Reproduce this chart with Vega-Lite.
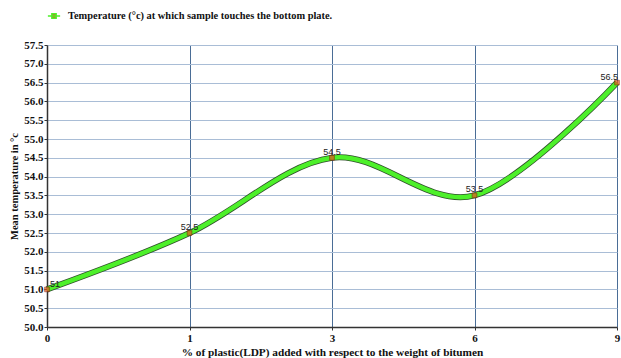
{
  "$schema": "https://vega.github.io/schema/vega-lite/v6.json",
  "autosize": "none",
  "width": 570,
  "height": 282,
  "padding": {"left": 47, "top": 45, "right": 4, "bottom": 31},
  "background": "white",
  "config": {
    "view": {"stroke": null},
    "font": "Liberation Serif"
  },
  "data": {
    "values": [
      {"plastic": "0", "temp": 51, "label": "51", "series": "Temperature (°c) at which sample touches the bottom plate."},
      {"plastic": "1", "temp": 52.5, "label": "52.5", "series": "Temperature (°c) at which sample touches the bottom plate."},
      {"plastic": "3", "temp": 54.5, "label": "54.5", "series": "Temperature (°c) at which sample touches the bottom plate."},
      {"plastic": "6", "temp": 53.5, "label": "53.5", "series": "Temperature (°c) at which sample touches the bottom plate."},
      {"plastic": "9", "temp": 56.5, "label": "56.5", "series": "Temperature (°c) at which sample touches the bottom plate."}
    ]
  },
  "encoding": {
    "x": {
      "field": "plastic",
      "type": "ordinal",
      "sort": null,
      "scale": {"type": "point", "padding": 0},
      "axis": {
        "title": "% of plastic(LDP) added with respect to the weight of bitumen",
        "titleFont": "Liberation Serif",
        "titleFontSize": 11.3,
        "titleFontWeight": "bold",
        "titleColor": "#111",
        "titlePadding": 3,
        "labelAngle": 0,
        "labelFont": "Liberation Serif",
        "labelFontWeight": "bold",
        "labelFontSize": 11,
        "labelColor": "#111",
        "labelPadding": 2,
        "domainColor": "#333",
        "domainWidth": 1.5,
        "tickColor": "#333",
        "tickSize": 3,
        "grid": true,
        "gridColor": "#4a6d96",
        "gridWidth": 1
      }
    },
    "y": {
      "field": "temp",
      "type": "quantitative",
      "scale": {"domain": [50, 57.5], "nice": false, "zero": false},
      "axis": {
        "title": "Mean temperature in °c",
        "titleFont": "Liberation Serif",
        "titleFontSize": 10.5,
        "titleFontWeight": "bold",
        "titleColor": "#111",
        "titlePadding": 4,
        "values": [50, 50.5, 51, 51.5, 52, 52.5, 53, 53.5, 54, 54.5, 55, 55.5, 56, 56.5, 57, 57.5],
        "format": ".1f",
        "labelFont": "Liberation Serif",
        "labelFontWeight": "bold",
        "labelFontSize": 11,
        "labelColor": "#111",
        "labelPadding": 1,
        "domainColor": "#333",
        "domainWidth": 1.5,
        "tickColor": "#333",
        "tickSize": 3,
        "grid": true,
        "gridColor": "#a9bdd6",
        "gridWidth": 1
      }
    }
  },
  "layer": [
    {
      "mark": {"type": "line", "interpolate": "cardinal", "strokeWidth": 6, "color": "#2f4f2a"},
      "encoding": {}
    },
    {
      "mark": {"type": "line", "interpolate": "cardinal", "strokeWidth": 4.5},
      "encoding": {
        "color": {
          "field": "series",
          "type": "nominal",
          "scale": {"range": ["#4df02a"]},
          "legend": {
            "title": null,
            "orient": "none",
            "legendX": 0,
            "legendY": -36,
            "symbolType": "M-1,0H1M-0.35,-0.35H0.35V0.35H-0.35Z",
            "symbolSize": 150,
            "symbolStrokeWidth": 1.5,
            "symbolFillColor": "#e8531f",
            "symbolStrokeColor": "#4df02a",
            "labelOffset": 7,
            "labelFont": "Liberation Serif",
            "labelFontWeight": "bold",
            "labelFontSize": 10.4,
            "labelColor": "#111",
            "labelLimit": 400
          }
        }
      }
    },
    {
      "mark": {"type": "point", "shape": "square", "filled": true, "size": 22, "color": "#e8531f", "stroke": "#8a1a00", "strokeWidth": 0.8}
    },
    {
      "transform": [{"filter": "datum.plastic != '0' && datum.plastic != '9'"}],
      "mark": {"type": "text", "dy": -6, "align": "center", "font": "Liberation Sans", "fontSize": 9, "color": "#222"},
      "encoding": {"text": {"field": "label"}}
    },
    {
      "transform": [{"filter": "datum.plastic == '0'"}],
      "mark": {"type": "text", "dy": -5, "dx": 3, "align": "left", "font": "Liberation Sans", "fontSize": 9, "color": "#222"},
      "encoding": {"text": {"field": "label"}}
    },
    {
      "transform": [{"filter": "datum.plastic == '9'"}],
      "mark": {"type": "text", "dy": -6, "dx": 1, "align": "right", "font": "Liberation Sans", "fontSize": 9, "color": "#222"},
      "encoding": {"text": {"field": "label"}}
    }
  ]
}
